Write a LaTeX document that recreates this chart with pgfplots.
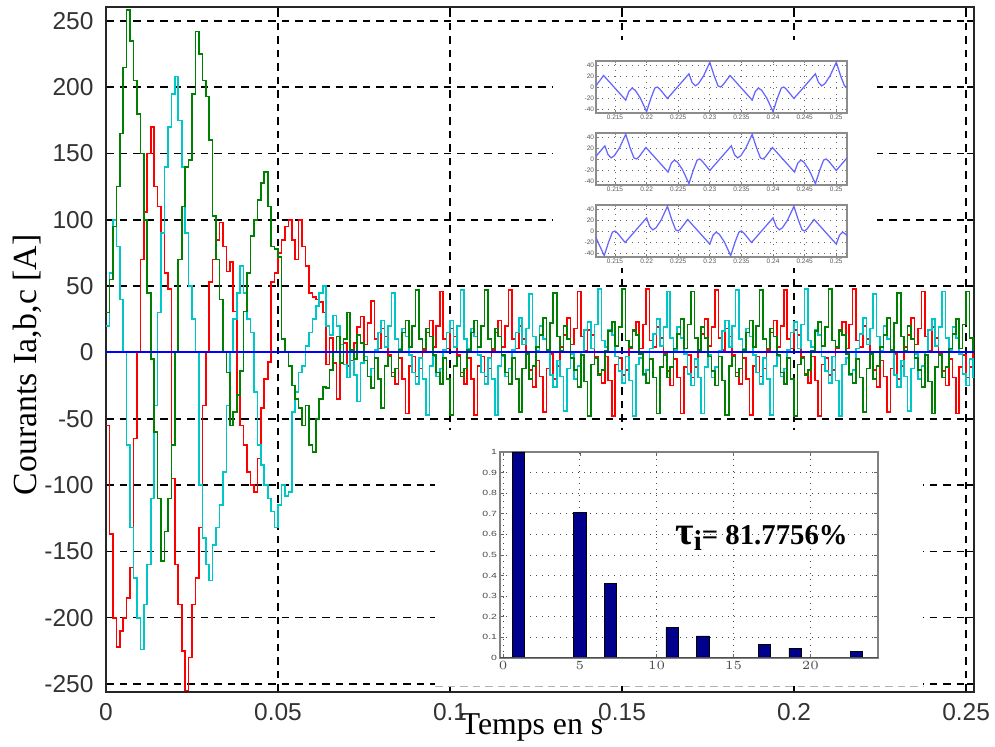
\documentclass[border=0pt]{standalone}
\usepackage{fontspec}
\setmainfont{Liberation Serif}
\newfontfamily\arial{Liberation Sans}
\newfontfamily\arialwide[FakeStretch=1.4]{Liberation Sans}
\usepackage{pgfplots}
\usepackage{pgfplotstable}
\pgfplotsset{compat=1.18}
\definecolor{mred}{rgb}{1,0,0}
\definecolor{mcyan}{rgb}{0,0.78,0.78}
\definecolor{mgreen}{rgb}{0,0.5,0}
\definecolor{mblue}{rgb}{0,0,1}
\definecolor{navybar}{rgb}{0,0,0.55}
\definecolor{inblue}{rgb}{0.4,0.4,1}

\pgfplotstableread{
t g r c
0.000 30 -55 20
0.001 55 -137 60
0.002 95 -200 100
0.003 125 -222 80
0.004 165 -210 40
0.005 215 -200 0
0.006 258 -185 -70
0.007 235 -162 -132
0.008 205 -65 -170
0.009 180 0 -200
0.010 150 70 -224
0.011 100 106 -190
0.012 45 150 -160
0.013 -5 170 -110
0.014 -60 125 -40
0.015 -110 110 30
0.016 -157 90 90
0.017 -135 60 140
0.018 -110 48 170
0.019 -70 -95 195
0.020 0 -160 208
0.021 70 -190 175
0.022 110 -225 140
0.023 140 -255 90
0.024 145 -230 50
0.025 195 -190 25
0.026 242 -170 0
0.027 225 -132 -100
0.028 205 -40 -140
0.029 193 0 -160
0.030 160 53 -172
0.031 103 70 -145
0.032 70 85 -132
0.033 40 98 -115
0.034 0 80 -90
0.035 -15 61 -40
0.036 -55 68 0
0.037 -45 31 25
0.038 -32 -32 45
0.039 -14 -55 65
0.040 31 -70 45
0.041 60 -90 25
0.042 88 -100 15
0.043 100 -105 -30
0.044 115 -80 -70
0.045 128 -42 -85
0.046 136 -20 -100
0.047 110 -7 -110
0.048 80 53 -120
0.049 78 60 -132
0.050 72 75 -115
0.051 10 85 -100
0.052 0 95 -108
0.053 -10 100 -105
0.054 -25 85 -45
0.055 -35 70 -30
0.056 -42 100 -15
0.057 -55 80 -10
0.058 -40 65 5
0.059 -70 45 15
0.060 -75 42 25
0.061 -50 40 35
0.062 -35 38 45
0.063 -26 30 50
0.064 -27 -9 20
0.065 -13 11 13
0.066 0 -8 28
0.067 12 -35 20
0.068 -8 0 6
0.069 10 7 -9
0.070 30 -10 -19
0.071 2 -6 0
0.072 -5 7 -17
0.073 13 19 -37
0.074 7 27 -8
0.075 -6 6 -3
0.076 -18 22 -18
0.077 -27 39 -12
0.078 -4 10 2
0.079 -20 3 15
0.080 -42 18 24
0.081 -10 12 4
0.082 -3 -2 20
0.083 -18 -15 45
0.084 -12 -24 10
0.085 2 -4 3
0.086 15 -20 18
0.087 24 -46 12
0.088 4 -10 -2
0.089 20 -3 -15
0.090 47 -18 -24
0.091 10 -12 -4
0.092 3 2 -20
0.093 18 15 -47
0.094 12 24 -10
0.095 -2 4 -3
0.096 -15 20 -18
0.097 -24 46 -12
0.098 -4 10 2
0.099 -20 3 15
0.100 -47 18 24
0.101 -10 12 4
0.102 -3 -2 20
0.103 -18 -15 47
0.104 -12 -24 10
0.105 2 -4 3
0.106 15 -20 18
0.107 24 -47 12
0.108 4 -10 -2
0.109 20 -3 -15
0.110 47 -18 -24
0.111 10 -12 -4
0.112 3 2 -20
0.113 18 15 -47
0.114 12 24 -10
0.115 -2 4 -3
0.116 -15 20 -18
0.117 -24 47 -12
0.118 -4 10 2
0.119 -20 3 15
0.120 -45 20 26
0.121 -12 10 6
0.122 -1 0 18
0.123 -20 -13 44
0.124 -10 -26 12
0.125 4 -6 1
0.126 13 -18 20
0.127 26 -45 10
0.128 2 -12 0
0.129 22 -1 -17
0.130 45 -20 -26
0.131 12 -10 -6
0.132 1 4 -18
0.133 20 13 -44
0.134 10 26 -12
0.135 -4 6 -1
0.136 -13 18 -20
0.137 -26 46 -10
0.138 -2 12 0
0.139 -22 1 17
0.140 -48 17 23
0.141 -9 13 3
0.142 -4 -3 21
0.143 -17 -16 48
0.144 -13 -23 9
0.145 1 -3 4
0.146 16 -21 17
0.147 23 -48 13
0.148 5 -9 -3
0.149 19 -4 -14
0.150 48 -17 -23
0.151 9 -13 -3
0.152 4 3 -21
0.153 17 16 -48
0.154 13 23 -9
0.155 -1 3 -4
0.156 -16 21 -17
0.157 -23 48 -13
0.158 -5 9 3
0.159 -19 4 14
0.160 -46 19 25
0.161 -11 11 5
0.162 -2 -1 19
0.163 -19 -14 46
0.164 -11 -25 11
0.165 3 -5 2
0.166 14 -19 19
0.167 25 -46 11
0.168 3 -11 -1
0.169 21 -2 -16
0.170 46 -19 -25
0.171 11 -11 -5
0.172 2 1 -19
0.173 19 14 -46
0.174 11 25 -11
0.175 -3 5 -2
0.176 -14 19 -19
0.177 -25 47 -11
0.178 -3 11 1
0.179 -21 2 16
0.180 -47 18 24
0.181 -10 12 4
0.182 -3 -2 20
0.183 -18 -15 47
0.184 -12 -24 10
0.185 2 -4 3
0.186 15 -20 18
0.187 24 -47 12
0.188 4 -10 -2
0.189 20 -3 -15
0.190 47 -18 -24
0.191 10 -12 -4
0.192 3 2 -20
0.193 18 15 -47
0.194 12 24 -10
0.195 -2 4 -3
0.196 -15 20 -18
0.197 -24 47 -12
0.198 -4 10 2
0.199 -20 3 15
0.200 -48 17 23
0.201 -9 13 3
0.202 -4 -3 21
0.203 -17 -16 48
0.204 -13 -23 9
0.205 1 -3 4
0.206 16 -21 17
0.207 23 -48 13
0.208 5 -9 -3
0.209 19 -4 -14
0.210 48 -17 -23
0.211 9 -13 -3
0.212 4 3 -21
0.213 17 16 -48
0.214 13 23 -9
0.215 -1 3 -4
0.216 -16 21 -17
0.217 -23 48 -13
0.218 -5 9 3
0.219 -19 4 14
0.220 -45 20 26
0.221 -12 10 6
0.222 -1 0 18
0.223 -20 -13 44
0.224 -10 -26 12
0.225 4 -6 1
0.226 13 -18 20
0.227 26 -45 10
0.228 2 -12 0
0.229 22 -1 -17
0.230 45 -20 -26
0.231 12 -10 -6
0.232 1 4 -18
0.233 20 13 -44
0.234 10 26 -12
0.235 -4 6 -1
0.236 -13 18 -20
0.237 -26 46 -10
0.238 -2 12 0
0.239 -22 1 17
0.240 -46 19 25
0.241 -11 11 5
0.242 -2 -1 19
0.243 -19 -14 46
0.244 -11 -25 11
0.245 3 -5 2
0.246 14 -19 19
0.247 25 -46 11
0.248 3 -11 -1
0.249 21 -2 -16
0.250 46 -19 -25
0.251 11 -11 -5
0.252 2 1 -19
0.253 19 14 -46
}\currents

\pgfplotstableread{
t v
0.2120 2
0.2121 4
0.2132 21
0.2167 -24
0.2172 -8
0.2177 -2
0.2182 -6
0.2190 -20
0.2200 -45
0.2207 -20
0.2213 -2
0.2217 0
0.2221 -4
0.2233 -21
0.2267 24
0.2272 8
0.2277 2
0.2282 6
0.2290 20
0.2300 45
0.2307 20
0.2313 2
0.2317 0
0.2321 4
0.2332 21
0.2367 -24
0.2372 -8
0.2377 -2
0.2382 -6
0.2390 -20
0.2400 -45
0.2407 -20
0.2413 -2
0.2417 0
0.2421 -4
0.2433 -21
0.2467 24
0.2472 8
0.2477 2
0.2482 6
0.2490 20
0.2500 45
0.2507 20
0.2513 2
0.2517 0
}\insetA

\pgfplotstableread{
t v
0.2120 5
0.2134 24
0.2139 8
0.2144 2
0.2149 6
0.2157 20
0.2167 45
0.2174 20
0.2180 2
0.2184 0
0.2188 4
0.2199 21
0.2234 -24
0.2239 -8
0.2244 -2
0.2249 -6
0.2257 -20
0.2267 -45
0.2274 -20
0.2280 -2
0.2284 0
0.2288 -4
0.2300 -21
0.2334 24
0.2339 8
0.2344 2
0.2349 6
0.2357 20
0.2367 45
0.2374 20
0.2380 2
0.2384 0
0.2388 4
0.2399 21
0.2434 -24
0.2439 -8
0.2444 -2
0.2449 -6
0.2457 -20
0.2467 -45
0.2474 -20
0.2480 -2
0.2484 0
0.2488 -4
0.2500 -21
0.2517 2
}\insetB

\pgfplotstableread{
t v
0.2120 -12
0.2123 -20
0.2133 -45
0.2140 -20
0.2146 -2
0.2150 0
0.2154 -4
0.2166 -21
0.2200 24
0.2205 8
0.2210 2
0.2215 6
0.2223 20
0.2233 45
0.2240 20
0.2246 2
0.2250 0
0.2254 4
0.2265 21
0.2300 -24
0.2305 -8
0.2310 -2
0.2315 -6
0.2323 -20
0.2333 -45
0.2340 -20
0.2346 -2
0.2350 0
0.2354 -4
0.2366 -21
0.2400 24
0.2405 8
0.2410 2
0.2415 6
0.2423 20
0.2433 45
0.2440 20
0.2446 2
0.2450 0
0.2454 4
0.2465 21
0.2500 -24
0.2505 -8
0.2510 -2
0.2515 -6
0.2517 -9
}\insetC

\pgfplotsset{
  smallwave/.style={
    anchor=south west, scale only axis, width=100.4pt, height=20.8pt,
    xmin=0.212, xmax=0.2517, ymin=-47.5, ymax=47.5,
    xtick={0.215,0.22,0.225,0.23,0.235,0.24,0.245,0.25},
    xticklabels={0.215,0.22,0.225,0.23,0.235,0.24,0.245,0.25},
    ytick={-40,-20,0,20,40}, yticklabels={-40,-20,0,20,40},
    scaled x ticks=false,
    grid=major, major grid style={dotted, black!60, line width=0.3pt},
    axis line style={black!45, line width=0.7pt},
    tick align=inside, major tick length=1pt, tick style={black!50, line width=0.3pt},
    ticklabel style={font=\arial\fontsize{2.6}{3}\selectfont, text=black!65, inner sep=0.6pt},
    axis background/.style={fill=white},
  }
}

\begin{document}
\begin{tikzpicture}[x=1pt,y=1pt]
\useasboundingbox (0,0) rectangle (398,298.8);
\begin{axis}[
  at={(42.4pt,22pt)}, anchor=south west, scale only axis,
  width=347.2pt, height=274pt,
  xmin=0, xmax=0.2523, ymin=-256, ymax=260.5,
  xtick={0,0.05,0.1,0.15,0.2,0.25},
  xticklabels={0,0.05,0.1,0.15,0.2,0.25},
  ytick={-250,-200,-150,-100,-50,0,50,100,150,200,250},
  yticklabels={-250,-200,-150,-100,-50,0,50,100,150,200,250},
  scaled x ticks=false,
  grid=major,
  major grid style={black, line width=0.6pt, dash pattern=on 3pt off 2.4pt},
  axis line style={black!85, line width=0.8pt},
  tick align=inside, major tick length=3pt,
  tick style={black, line width=0.6pt},
  ticklabel style={font=\arial\fontsize{9.8}{10}\selectfont, text=black!80},
  xticklabel style={yshift=-1pt},
  yticklabel style={xshift=-1.5pt},
]
\addplot[const plot, mred, line width=0.65pt] table[x=t, y=r] {\currents};
\addplot[const plot, mcyan, line width=0.65pt] table[x=t, y=c] {\currents};
\addplot[const plot, mgreen, line width=0.65pt] table[x=t, y=g] {\currents};
\addplot[mblue, line width=0.8pt] coordinates {(0,0) (0.2523,0)};
\end{axis}

% white backgrounds of the pasted inset pictures
\fill[white] (221.2,191.6) rectangle (350.8,282.8);
\fill[white] (174,24.4) rectangle (369.2,126.8);
\draw[black!30, line width=0.3pt, dash pattern=on 3pt off 2pt] (174,24.4) -- (369.2,24.4);

% three zoomed waveforms
\begin{axis}[smallwave, at={(238.4pt,253.6pt)}]
\addplot[inblue, line width=0.5pt] table[x=t, y=v] {\insetA};
\end{axis}
\begin{axis}[smallwave, at={(238.4pt,224.8pt)}]
\addplot[inblue, line width=0.5pt] table[x=t, y=v] {\insetB};
\end{axis}
\begin{axis}[smallwave, at={(238.4pt,196pt)}]
\addplot[inblue, line width=0.5pt] table[x=t, y=v] {\insetC};
\end{axis}

% harmonic spectrum
\begin{axis}[
  at={(200pt,35.6pt)}, anchor=south west, scale only axis,
  width=151.2pt, height=82.4pt,
  xmin=-0.2, xmax=24.4, ymin=0, ymax=1,
  xtick={0,5,10,15,20},
  ytick={0,0.1,0.2,0.3,0.4,0.5,0.6,0.7,0.8,0.9,1},
  yticklabels={0,0.1,0.2,0.3,0.4,0.5,0.6,0.7,0.8,0.9,1},
  grid=major, major grid style={dotted, black!70, line width=0.35pt},
  axis line style={black!50, line width=0.5pt},
  tick align=inside, major tick length=1.5pt, tick style={black!60, line width=0.3pt},
  ticklabel style={font=\arialwide\fontsize{3}{3.5}\selectfont, text=black!70, inner sep=1pt},
  axis background/.style={fill=white},
]
\addplot[ybar, bar width=0.8, fill=navybar, draw=black, line width=0.3pt]
  coordinates {(1,1) (5,0.705) (7,0.362) (11,0.147) (13,0.107) (17,0.065) (19,0.048) (23,0.033)};
\addplot[black!70, line width=0.5pt] coordinates {(-0.2,0) (24.4,0)};
\end{axis}

\node[anchor=base west, font=\bfseries\fontsize{11.5}{12}\selectfont, inner sep=0pt]
  at (270,80.8) {{\fontsize{16}{16}\selectfont τ}\raisebox{-0.45ex}{i}= 81.7756\%};

\node[rotate=90, font=\fontsize{13.5}{14}\selectfont] at (10.8,152.8) {Courants Ia,b,c [A]};
\node[anchor=base, font=\fontsize{12.7}{13}\selectfont] at (212.8,4.8) {Temps en s};
\end{tikzpicture}
\end{document}
